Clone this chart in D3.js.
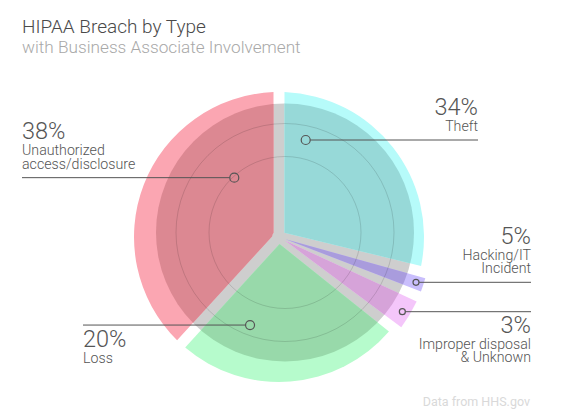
<!DOCTYPE html>
<html><head><meta charset="utf-8">
<script src="https://cdn.jsdelivr.net/npm/d3@7"></script>
<style>
body{margin:0;background:#fff;}
svg{display:block;font-family:Roboto,"Helvetica Neue","Liberation Sans",Arial,sans-serif;}
</style></head><body>
<svg id="chart" width="561" height="420"></svg>
<script>
// ---- data ----
const categories = ["Theft","Hacking/IT Incident","Improper disposal & Unknown","Loss","Unauthorized access/disclosure"];
const percentLabels = [34, 5, 3, 20, 38];            // printed percentages
const angleShares = [28.8, 2.6, 4.3, 26.1, 38.2];    // share of the circle each wedge spans
const labelTexts = [["Theft"],["Hacking/IT","Incident"],["Improper disposal","& Unknown"],["Loss"],["Unauthorized","access/disclosure"]];
const titleText = "HIPAA Breach by Type";
const subtitleText = "with Business Associate Involvement";
const sourceText = "Data from HHS.gov";

// ---- style ----
const paletteLight = ["#b6fbfa","#c9befc","#f4c6fa","#b6fbcc","#fba6b2"];
const paletteDark  = ["#97d9d8","#a99cdd","#d6a3d9","#98d9aa","#dc8892"];

const svg = d3.select("#chart");

// layout
const pieC = {x: 279, y: 237};
const discC = {x: 285, y: 232.5};
const discR = 129;
const rings = [76, 109];

const data = categories.map((c,i)=>({cat:c, share:angleShares[i], pct:percentLabels[i], lines:labelTexts[i]}));
const colorL = d3.scaleOrdinal().domain(categories).range(paletteLight);
const colorD = d3.scaleOrdinal().domain(categories).range(paletteDark);
const pie = d3.pie().sort(null).value(d=>d.share).startAngle(0).endAngle(2*Math.PI);
const arcs = pie(data);
const outerR = d => d.data.share < 5 ? 152 : 145;
const arc = d3.arc().innerRadius(7).outerRadius(outerR).padAngle(0.11).padRadius(100);

svg.append("defs").append("clipPath").attr("id","disc")
  .append("circle").attr("cx",discC.x-pieC.x).attr("cy",discC.y-pieC.y).attr("r",discR);

// disc
svg.append("circle").attr("cx",discC.x).attr("cy",discC.y).attr("r",discR).attr("fill","#cecece");

// wedges (light part outside disc, darker part inside disc)
const g1 = svg.append("g").attr("transform",`translate(${pieC.x},${pieC.y})`);
g1.append("g").selectAll("path").data(arcs).join("path")
  .attr("d",arc).attr("fill",d=>colorL(d.data.cat));
g1.append("g").attr("clip-path","url(#disc)").selectAll("path").data(arcs).join("path")
  .attr("d",arc).attr("fill",d=>colorD(d.data.cat));

// grid rings
svg.append("g").attr("transform",`translate(${discC.x},${discC.y})`)
  .selectAll("circle").data(rings).join("circle")
  .attr("r",d=>d).attr("fill","none").attr("stroke","#000").attr("stroke-opacity",0.13).attr("stroke-width",1);

// labels layout: angle(deg)/radius of marker, text x, side
const labelLayout = {
  "Theft": {ang:15.4, r:100.6, tx:478, anchor:"end", pos:"above", mr:4.5},
  "Hacking/IT Incident": {ang:108.3, r:144.3, tx:531, anchor:"end", pos:"above", mr:3},
  "Improper disposal & Unknown": {ang:121.2, r:144.2, tx:531, anchor:"end", pos:"below", mr:3},
  "Loss": {ang:198.2, r:92.7, tx:83, anchor:"start", pos:"below", mr:4.5},
  "Unauthorized access/disclosure": {ang:323, r:74.3, tx:22, anchor:"start", pos:"above", mr:4.5}
};
const gl = svg.append("g");
data.forEach(d=>{
  const L = labelLayout[d.cat];
  const [px,py] = d3.pointRadial(L.ang*Math.PI/180, L.r);
  const mx = pieC.x+px, my = pieC.y+py;
  gl.append("line").attr("x1",L.tx).attr("x2",mx + (L.tx<mx?-L.mr:L.mr)).attr("y1",my).attr("y2",my)
    .attr("stroke","#555").attr("stroke-width",1);
  gl.append("circle").attr("cx",mx).attr("cy",my).attr("r",L.mr)
    .attr("fill","none").attr("stroke","#555").attr("stroke-width",1.2);
  const n = d.lines.length;
  let pctY, lineYs;
  if (L.pos==="above"){
    const last = my - 9;
    lineYs = d.lines.map((t,i)=> last - (n-1-i)*13.2);
    pctY = lineYs[0] - 16.5;
  } else {
    pctY = my + 21.5;
    lineYs = d.lines.map((t,i)=> pctY + 16 + i*13.2);
  }
  gl.append("text").attr("x",L.tx).attr("y",pctY).attr("text-anchor",L.anchor)
    .attr("font-size",23.5).attr("font-weight",300).attr("fill","#555").text(d.pct+"%");
  d.lines.forEach((t,i)=>{
    gl.append("text").attr("x",L.tx).attr("y",lineYs[i]).attr("text-anchor",L.anchor)
      .attr("font-size",14.2).attr("font-weight",300).attr("fill","#555").text(t);
  });
});

// titles
svg.append("text").attr("x",22).attr("y",33).attr("font-size",19).attr("font-weight",300)
  .attr("fill","#4a4a4a").text(titleText);
svg.append("text").attr("x",22).attr("y",53).attr("font-size",17.2).attr("font-weight",300)
  .attr("fill","#a8a8a8").text(subtitleText);
svg.append("text").attr("x",530).attr("y",406).attr("text-anchor","end").attr("font-size",12.5)
  .attr("fill","#d9d9d9").text(sourceText);
</script>
</body></html>
